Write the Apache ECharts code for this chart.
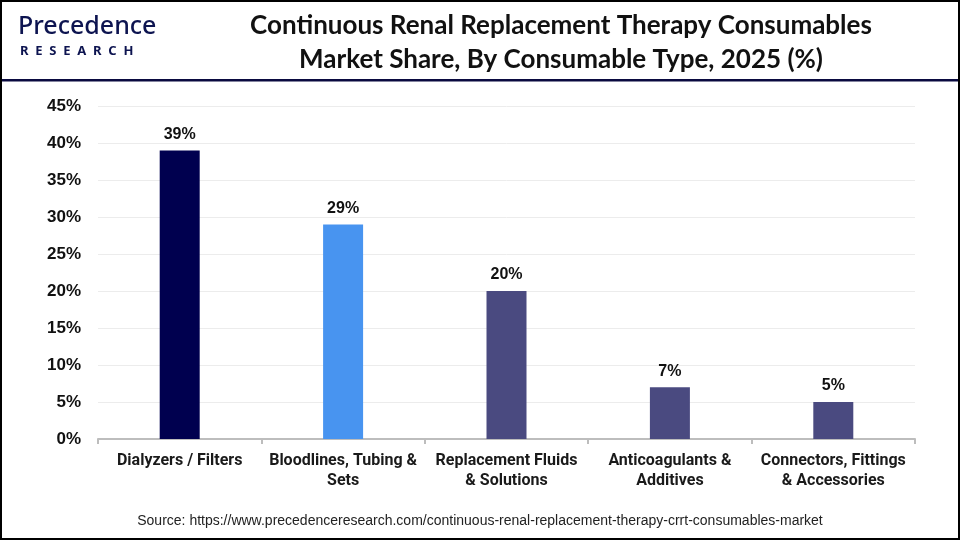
<!DOCTYPE html>
<html><head><meta charset="utf-8">
<script src="https://cdn.jsdelivr.net/npm/echarts@6/dist/echarts.min.js"></script>
<style>html,body{margin:0;padding:0;background:#fff}#c{width:960px;height:540px}</style>
</head><body><div id="c"></div>
<script>
const categories = ['Dialyzers / Filters', 'Bloodlines, Tubing &\nSets', 'Replacement Fluids\n& Solutions', 'Anticoagulants &\nAdditives', 'Connectors, Fittings\n& Accessories'];
const shares = [39, 29, 20, 7, 5];
const barColors = ['#00004f', '#4894f0', '#4a4a80', '#4a4a80', '#4a4a80'];
const yTicks = [0, 5, 10, 15, 20, 25, 30, 35, 40, 45];

const chart = echarts.init(document.getElementById('c'));
chart.setOption({
  backgroundColor: '#fff',
  animation: false,
  title: {
    text: 'Continuous Renal Replacement Therapy Consumables\nMarket Share, By Consumable Type, 2025 (%)',
    left: 556, top: 4, textAlign: 'center',
    textStyle: { fontFamily: 'Lato', fontWeight: 'bold', fontSize: 26, lineHeight: 34, color: '#111' }
  },
  graphic: [
    { type: 'rect', shape: { x: 1, y: 1, width: 958, height: 538 }, style: { fill: 'none', stroke: '#000', lineWidth: 2 }, z: 100 },
    { type: 'rect', shape: { x: 0, y: 79, width: 960, height: 2.5 }, style: { fill: '#0a0a40' } },
    { type: 'text', left: 18, top: 14, style: { text: 'Precedence', font: '500 25px "Noto Sans"', fill: '#0d1450' } },
    { type: 'text', left: 20, top: 45, style: { text: 'R  E  S  E  A  R  C  H', font: 'bold 13px "Noto Sans"', fill: '#0d1450' } },
    { type: 'text', style: { x: 480, y: 521, text: 'Source: https://www.precedenceresearch.com/continuous-renal-replacement-therapy-crrt-consumables-market', font: '14px "Liberation Sans"', fill: '#222', textAlign: 'center', textVerticalAlign: 'middle' } }
  ],
  grid: { left: 98, right: 45, top: 106, bottom: 101 },
  xAxis: {
    type: 'category', data: categories,
    axisLine: { lineStyle: { color: '#bdbdbd', width: 2 } },
    axisTick: { show: true, length: 5, lineStyle: { color: '#bdbdbd', width: 2 } },
    axisLabel: { interval: 0, color: '#1a1a1a', fontFamily: 'Roboto', fontWeight: 'bold', fontSize: 16, lineHeight: 20, margin: 12 }
  },
  yAxis: {
    type: 'value', min: 0, max: 45, interval: 5,
    axisLine: { show: false }, axisTick: { show: false },
    splitLine: { lineStyle: { color: '#ececec', width: 1 } },
    axisLabel: { formatter: v => yTicks.includes(v) ? v + '%' : '', color: '#111', fontFamily: 'Liberation Sans', fontWeight: 'bold', fontSize: 17, margin: 17 }
  },
  series: [{
    type: 'bar', barWidth: 40,
    data: shares.map((v, i) => ({ value: v, itemStyle: { color: barColors[i] } })),
    label: { show: true, position: 'top', distance: 8, formatter: p => p.value + '%', color: '#111', fontFamily: 'Liberation Sans', fontWeight: 'bold', fontSize: 16 }
  }]
});
</script></body></html>
